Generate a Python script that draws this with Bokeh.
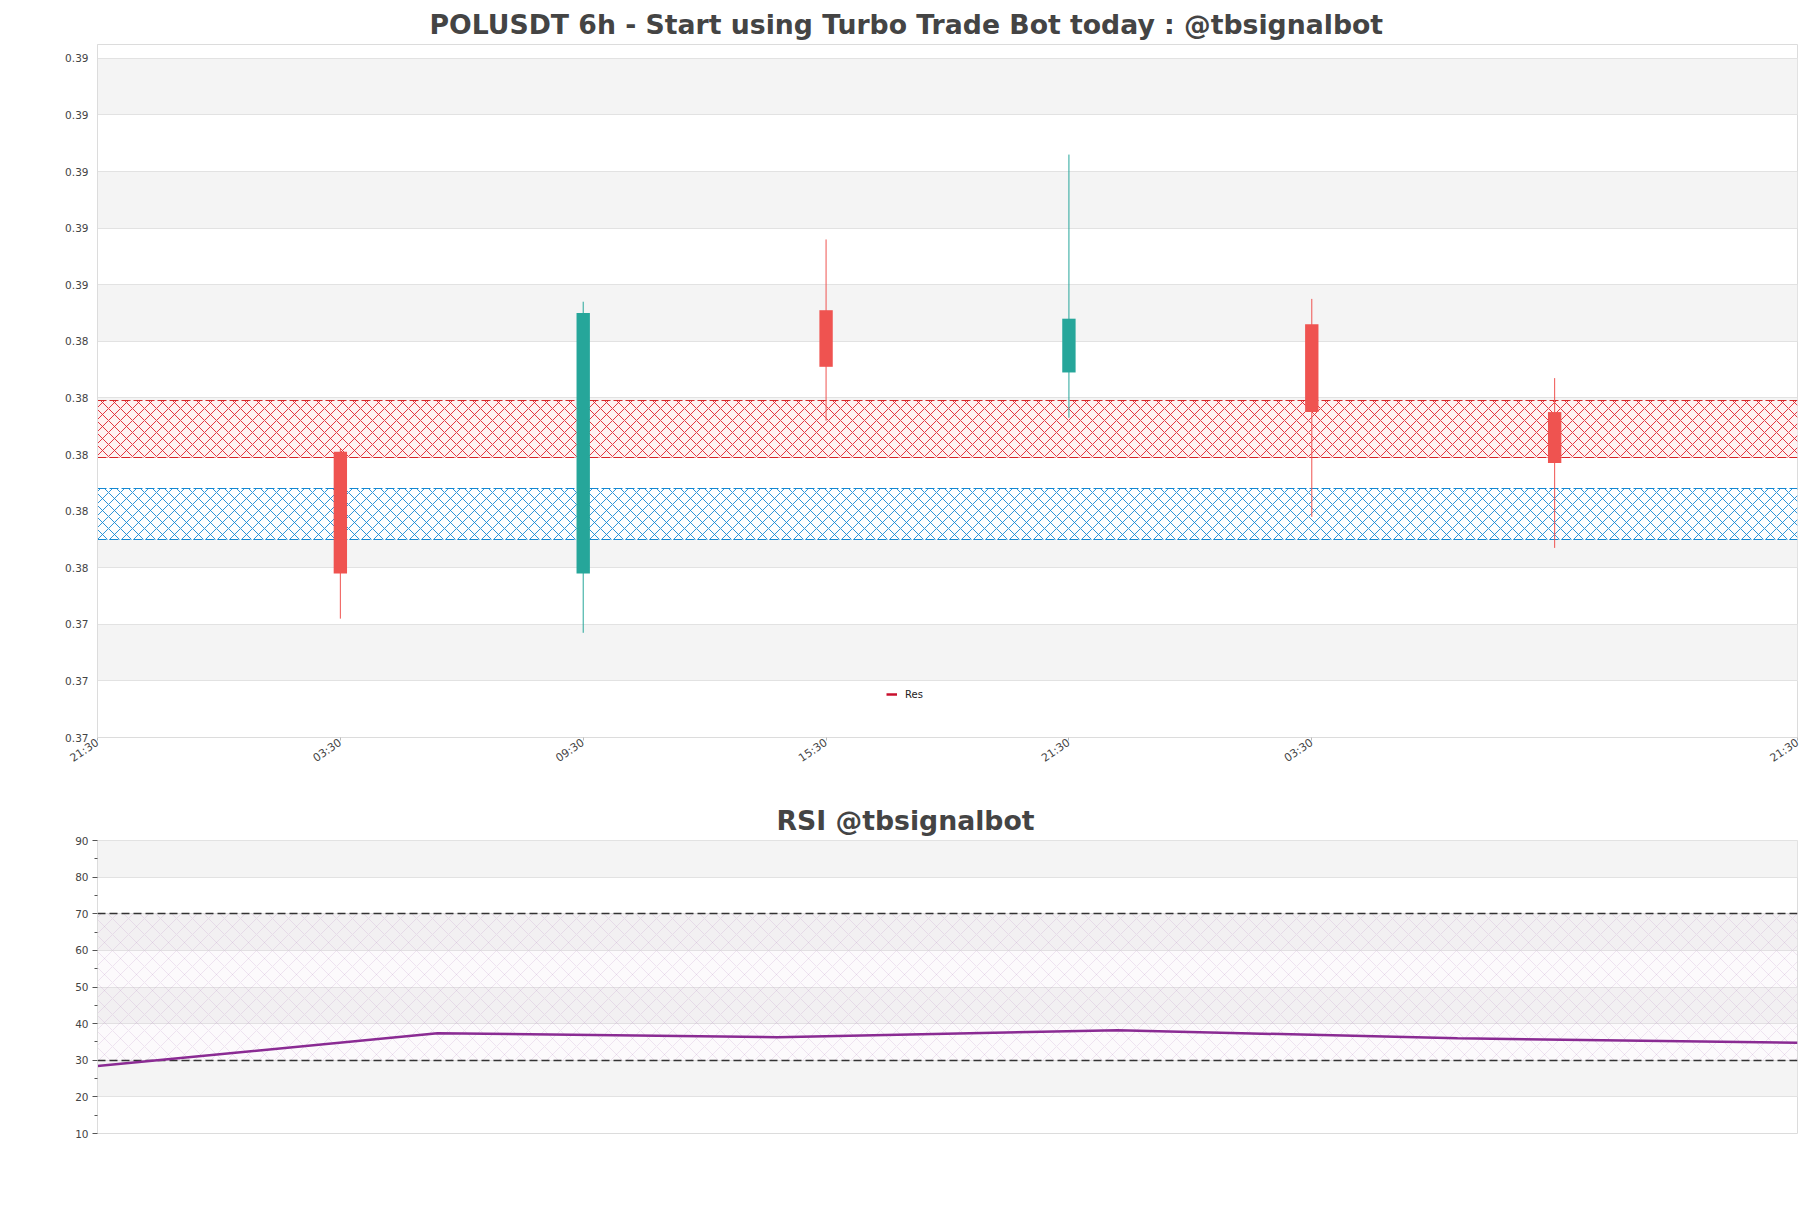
from bokeh.plotting import figure
from bokeh.layouts import column
from bokeh.models import (ColumnDataSource, FixedTicker, Range1d, Legend, LegendItem,
                          Title, PrintfTickFormatter)
from bokeh.embed import file_html
from bokeh.resources import INLINE
import math

# ---------------- data ----------------
candle_labels = ["03:30", "09:30", "15:30", "21:30", "03:30", "09:30"]
candle_pos = [1, 2, 3, 4, 5, 6]
opens  = [0.3801, 0.3758, 0.3851, 0.3829, 0.3846, 0.3815]
highs  = [0.3802, 0.3854, 0.3876, 0.3906, 0.3855, 0.3827]
lows   = [0.3742, 0.3737, 0.3812, 0.3813, 0.3778, 0.3767]
closes = [0.3758, 0.3850, 0.3831, 0.3848, 0.3815, 0.3797]

res_zone = [0.3799, 0.3819]   # resistance band (bottom, top)
sup_zone = [0.3770, 0.3788]   # support band (bottom, top)

price_ticks = [0.370, 0.372, 0.374, 0.376, 0.378, 0.380, 0.382,
               0.384, 0.386, 0.388, 0.390, 0.392, 0.394]
price_range = [0.370, 0.39449]
time_tick_pos = [0, 1, 2, 3, 4, 5, 7]
time_tick_labels = ["21:30", "03:30", "09:30", "15:30", "21:30", "03:30", "21:30"]
time_range = [0, 7]

rsi_pos = [0, 1, 2, 3, 4, 5]
rsi_values = [28.4, 37.4, 36.3, 38.2, 36.0, 34.8]
rsi_levels = [30, 70]
rsi_ticks = [10, 20, 30, 40, 50, 60, 70, 80, 90]
rsi_minor_ticks = [15, 25, 35, 45, 55, 65, 75, 85]
rsi_range = [10, 90]

UP = "#26A69A"
DOWN = "#EF5350"
GRID = "#E2E2E2"
BAND = "#F4F4F4"
FRAME = "#DCDCDC"
TXT = "#444444"
FONT = "DejaVu Sans"

# ---------------- price chart ----------------
colors = [UP if c >= o else DOWN for o, c in zip(opens, closes)]
src = ColumnDataSource(dict(
    x=candle_pos, open=opens, close=closes, high=highs, low=lows,
    top=[max(o, c) for o, c in zip(opens, closes)],
    bottom=[min(o, c) for o, c in zip(opens, closes)],
    color=colors, label=candle_labels))

p = figure(width=1811, height=790, output_backend="svg", toolbar_location=None,
           x_range=Range1d(*time_range), y_range=Range1d(*price_range),
           min_border_left=97, min_border_right=14, min_border_top=44, min_border_bottom=53)
p.title = None
t = Title(text="POLUSDT 6h - Start using Turbo Trade Bot today : @tbsignalbot",
          align="left", offset=332, text_font=FONT, text_font_size="26.7px",
          text_font_style="bold", text_color=TXT, standoff=10)
p.add_layout(t, "above")

p.outline_line_color = FRAME
p.background_fill_color = "white"
p.border_fill_color = "white"

p.xgrid.grid_line_color = None
p.ygrid.ticker = FixedTicker(ticks=price_ticks)
p.ygrid.grid_line_color = GRID
p.ygrid.band_fill_color = BAND
p.ygrid.band_fill_alpha = 1.0

p.yaxis.ticker = FixedTicker(ticks=price_ticks)
p.yaxis.formatter = PrintfTickFormatter(format="%.2f")
p.yaxis.axis_line_color = FRAME
p.yaxis.major_tick_line_color = None
p.yaxis.major_tick_out = 0
p.yaxis.major_tick_in = 0
p.yaxis.minor_tick_line_color = None
p.yaxis.major_label_standoff = 9
p.yaxis.major_label_text_font = FONT
p.yaxis.major_label_text_font_size = "10.5px"
p.yaxis.major_label_text_color = TXT

p.xaxis.ticker = FixedTicker(ticks=time_tick_pos)
p.xaxis.major_label_overrides = {pos: lab for pos, lab in zip(time_tick_pos, time_tick_labels)}
p.xaxis.axis_line_color = FRAME
p.xaxis.major_tick_line_color = "#BBBBBB"
p.xaxis.major_tick_out = 3
p.xaxis.major_tick_in = 0
p.xaxis.minor_tick_line_color = None
p.xaxis.major_label_orientation = 0.6
p.xaxis.major_label_standoff = 1
p.xaxis.major_label_text_font = FONT
p.xaxis.major_label_text_font_size = "11px"
p.xaxis.major_label_text_color = TXT

# zones
p.hstrip(y0=[res_zone[0]], y1=[res_zone[1]], fill_color="#FFF2F2", fill_alpha=0.9,
         hatch_pattern="diagonal_cross", hatch_color="#E0202A", hatch_alpha=1.0,
         hatch_scale=12, hatch_weight=0.9,
         line_color="#D62728", line_width=1.2, line_dash="9 3")
p.hstrip(y0=[sup_zone[0]], y1=[sup_zone[1]], fill_color="#FFFFFF", fill_alpha=0.9,
         hatch_pattern="diagonal_cross", hatch_color="#1488D2", hatch_alpha=1.0,
         hatch_scale=12, hatch_weight=0.9,
         line_color="#1488D2", line_width=1.2, line_dash="9 3")

# candles
p.segment(x0="x", y0="high", x1="x", y1="low", color="color", line_width=1, source=src)
p.vbar(x="x", width=0.055, top="top", bottom="bottom", fill_color="color",
       line_color="color", line_width=0, source=src)

res_line = p.line(x=[float("nan")], y=[float("nan")], line_color="#C8102E", line_width=2.5)
legend = Legend(items=[LegendItem(label="Res", renderers=[res_line])],
                location=(789, 37), padding=0, margin=0, spacing=0,
                glyph_width=11, glyph_height=12, label_standoff=8,
                label_text_font=FONT, label_text_font_size="10px",
                label_text_color="#222222",
                border_line_color=None, background_fill_alpha=0)
p.add_layout(legend)

# ---------------- RSI chart ----------------
r = figure(width=1811, height=418, output_backend="svg", toolbar_location=None,
           x_range=Range1d(rsi_pos[0], rsi_pos[-1]), y_range=Range1d(*rsi_range),
           min_border_left=97, min_border_right=14, min_border_top=50, min_border_bottom=75)
rt = Title(text="RSI @tbsignalbot", align="left", offset=679, text_font=FONT,
           text_font_size="26.7px", text_font_style="bold", text_color=TXT, standoff=10)
r.add_layout(rt, "above")
r.outline_line_color = FRAME
r.xaxis.visible = False
r.xgrid.grid_line_color = None
r.ygrid.ticker = FixedTicker(ticks=rsi_ticks)
r.ygrid.grid_line_color = GRID
r.ygrid.band_fill_color = BAND
r.ygrid.band_fill_alpha = 1.0

r.yaxis.ticker = FixedTicker(ticks=rsi_ticks, minor_ticks=rsi_minor_ticks)
r.yaxis.axis_line_color = FRAME
r.yaxis.major_tick_line_color = "#555555"
r.yaxis.major_tick_out = 5
r.yaxis.major_tick_in = 0
r.yaxis.minor_tick_line_color = "#555555"
r.yaxis.minor_tick_out = 3
r.yaxis.minor_tick_in = 0
r.yaxis.major_label_standoff = 4
r.yaxis.major_label_text_font = FONT
r.yaxis.major_label_text_font_size = "10.5px"
r.yaxis.major_label_text_color = TXT

r.hstrip(y0=[rsi_levels[0]], y1=[rsi_levels[1]], fill_color="#E8D8EA", fill_alpha=0.12,
         hatch_pattern="diagonal_cross", hatch_color="#B98CC0", hatch_alpha=0.35,
         hatch_scale=16, hatch_weight=0.6, line_alpha=0)
r.hspan(y=rsi_levels, line_color="#333333", line_width=1.3, line_dash="8 4")
r.line(x=rsi_pos, y=rsi_values, line_color="#8A2B93", line_width=2.5)

layout = column(p, r, spacing=0)
open("out.html", "w").write(file_html(layout, INLINE))
